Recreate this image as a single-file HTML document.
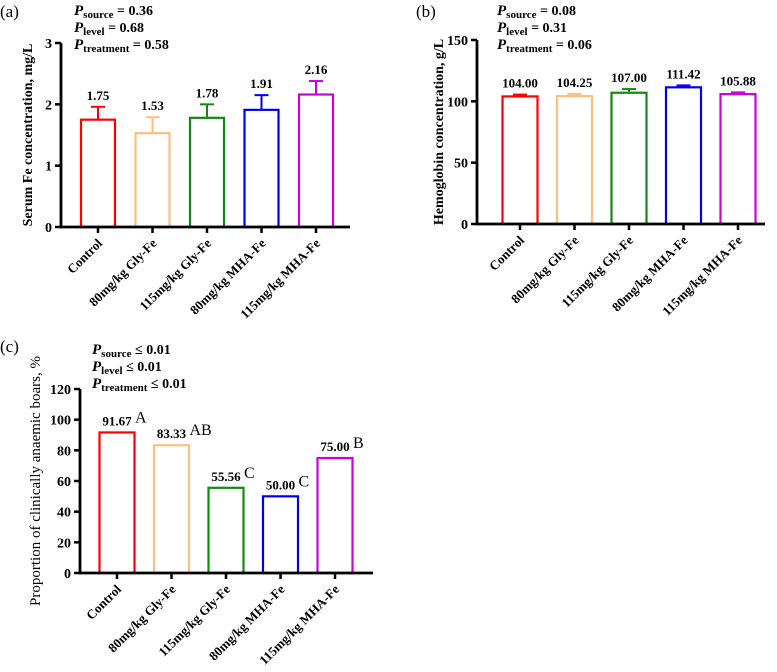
<!DOCTYPE html>
<html><head><meta charset="utf-8"><style>
body{margin:0;background:#fff;}
svg{display:block;font-family:"Liberation Serif",serif;}
</style></head><body>
<svg id="fig" width="777" height="672" viewBox="0 0 777 672" xmlns="http://www.w3.org/2000/svg"></svg>
<script>
const categories = ["Control","80mg/kg Gly-Fe","115mg/kg Gly-Fe","80mg/kg MHA-Fe","115mg/kg MHA-Fe"];
const colors = ["#ff0000","#fbbf85","#118a11","#0000ee","#cc00dd"];
const feValues = [1.75,1.53,1.78,1.91,2.16];
const feErrTop = [1.96,1.79,2.00,2.15,2.38];
const feTicks = [0,1,2,3];
const hbValues = [104.00,104.25,107.00,111.42,105.88];
const hbErrTop = [105.5,106,110,113,107.3];
const hbTicks = [0,50,100,150];
const anValues = [91.67,83.33,55.56,50.00,75.00];
const anLetters = ["A","AB","C","C","B"];
const anTicks = [0,20,40,60,80,100,120];
const feP = [["source"," = 0.36"],["level"," = 0.68"],["treatment"," = 0.58"]];
const hbP = [["source"," = 0.08"],["level"," = 0.31"],["treatment"," = 0.06"]];
const anP = [["source"," \u2264 0.01"],["level"," \u2264 0.01"],["treatment"," \u2264 0.01"]];

const NS="http://www.w3.org/2000/svg";
const svg=document.getElementById('fig');
function mk(tag,attrs,parent,text){const e=document.createElementNS(NS,tag);for(const k in attrs)e.setAttribute(k,attrs[k]);if(text!==undefined)e.textContent=text;(parent||svg).appendChild(e);return e;}

function chart(o){
  const g=mk('g',{});
  
  
  const ymax=o.ticks[o.ticks.length-1];
  const y=v=>o.y0-(v/ymax)*(o.y0-o.yTop);
  const x=i=>o.c0+i*o.step;
  const pl=mk('text',{x:o.lx,y:o.ly,'font-size':17},g,o.label);
  
  
  o.p.forEach((p,k)=>{
    const t=mk('text',{x:o.px,y:o.py+k*17,'font-size':14,'font-weight':'bold'},g);
    
    
    mk('tspan',{'font-style':'italic','font-size':15},t,'P');
    mk('tspan',{'font-size':11,dy:3},t,p[0]);
    mk('tspan',{dy:-3},t,p[1]);
  });
  o.vals.forEach((v,i)=>{
    const cx=x(i);
    if(o.err){
      const e=mk('g',{stroke:colors[i],'stroke-width':2},g);
      
      
      mk('line',{x1:cx,x2:cx,y1:y(v),y2:y(o.err[i])},e);
      mk('line',{x1:cx-7,x2:cx+7,y1:y(o.err[i]),y2:y(o.err[i])},e);
    }
    const r=mk('rect',{x:cx-o.bw/2,y:y(v),width:o.bw,height:o.y0-y(v),fill:'#fff',stroke:colors[i],'stroke-width':2.2},g);
    
    
    const top=o.err?y(o.err[i]):y(v);
    const vl=mk('text',{x:cx,y:top-7,'text-anchor':'middle','font-size':13,'font-weight':'bold'},g,v.toFixed(2));
    
    
    if(o.letters){
      const lt=mk('text',{x:cx+18,y:top-10,'font-size':16},g,o.letters[i]);
      
      
    }
    const tk=mk('line',{x1:cx,x2:cx,y1:o.y0,y2:o.y0+6,stroke:'#000','stroke-width':2.5},g);
    
    
    const cl=mk('text',{x:cx+5,y:o.y0+17,'text-anchor':'end','font-size':13,'font-weight':'bold',transform:`rotate(-45 ${cx+5} ${o.y0+17})`},g,categories[i]);
    
    
  });
  const ax=mk('path',{d:`M${o.ax} ${o.yTop} V${o.y0} H${o.xEnd}`,fill:'none',stroke:'#000','stroke-width':2.8},g);
  
  
  o.ticks.forEach(t=>{
    const l=mk('line',{x1:o.ax-6,x2:o.ax,y1:y(t),y2:y(t),stroke:'#000','stroke-width':2.5},g);
    
    
    const tl=mk('text',{x:o.ax-9,y:y(t)+5,'text-anchor':'end','font-size':14,'font-weight':'bold'},g,t);
    
    
  });
  const yt=mk('text',{x:0,y:0,'text-anchor':'middle','font-size':o.titleBold?14:15,'font-weight':o.titleBold?'bold':'normal',transform:`translate(${o.tx} ${(o.y0+o.yTop)/2}) rotate(-90)`},g,o.title);
  
  
}

chart({name:'serum-fe-chart',label:'(a)',lx:0,ly:17,px:74,py:15,p:feP,vals:feValues,err:feErrTop,ticks:feTicks,
  ax:61,y0:227,yTop:43,xEnd:350,c0:98,step:54.5,bw:34,title:'Serum Fe concentration, mg/L',tx:32,titleBold:true});
chart({name:'hemoglobin-chart',label:'(b)',lx:416,ly:17,px:497,py:15,p:hbP,vals:hbValues,err:hbErrTop,ticks:hbTicks,
  ax:477,y0:224,yTop:40,xEnd:765,c0:520,step:54.5,bw:35,title:'Hemoglobin concentration, g/L',tx:443,titleBold:true});
chart({name:'anaemia-proportion-chart',label:'(c)',lx:0,ly:352,px:92,py:354,p:anP,vals:anValues,letters:anLetters,ticks:anTicks,
  ax:80,y0:573,yTop:389,xEnd:373,c0:117,step:54.5,bw:35,title:'Proportion of clinically anaemic boars, %',tx:40,titleBold:false});
</script>
</body></html>
